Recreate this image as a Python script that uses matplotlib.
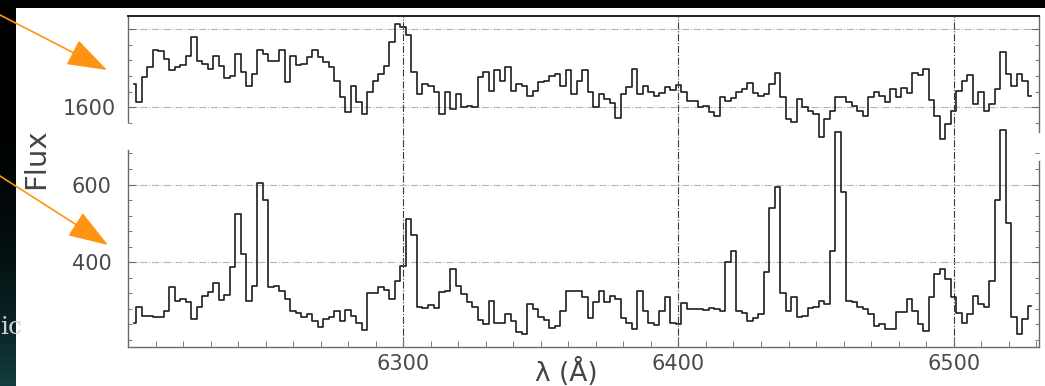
import numpy as np
import matplotlib
matplotlib.use("Agg")
from matplotlib import pyplot as plt
from matplotlib.patches import Rectangle, FancyArrowPatch
from matplotlib.ticker import MultipleLocator, FixedLocator

# wavelength bins (2 A wide) and the two spectra
wave = np.arange(6202, 6530, 2)

flux_top = [
    1660, 1613, 1677, 1702, 1746, 1743, 1723, 1694, 1704, 1709,
    1732, 1779, 1719, 1711, 1698, 1732, 1706, 1675, 1681, 1736,
    1689, 1655, 1685, 1745, 1736, 1719, 1719, 1745, 1664, 1732,
    1709, 1711, 1728, 1745, 1728, 1715, 1702, 1668, 1626, 1587,
    1655, 1613, 1583, 1638, 1668, 1685, 1706, 1766, 1813, 1804,
    1785, 1690, 1634, 1660, 1655, 1638, 1583, 1638, 1596, 1634,
    1600, 1604, 1600, 1677, 1689, 1642, 1694, 1668, 1702, 1642,
    1660, 1655, 1630, 1642, 1664, 1668, 1681, 1685, 1655, 1694,
    1634, 1668, 1694, 1638, 1600, 1634, 1621, 1611, 1574, 1634,
    1651, 1698, 1634, 1655, 1640, 1630, 1636, 1653, 1645, 1658,
    1640, 1617, 1615, 1600, 1604, 1587, 1579, 1626, 1615, 1625,
    1640, 1647, 1662, 1636, 1630, 1634, 1660, 1687, 1626, 1570,
    1562, 1621, 1602, 1590, 1583, 1523, 1570, 1591, 1626, 1626,
    1613, 1604, 1590, 1579, 1626, 1640, 1630, 1613, 1647, 1626,
    1649, 1636, 1687, 1683, 1698, 1619, 1579, 1519, 1557, 1591,
    1642, 1668, 1683, 1608, 1638, 1591, 1608, 1647, 1741, 1685,
    1655, 1685, 1668, 1630,
]

flux_bot = [
    245, 285, 262, 262, 260, 260, 275, 336, 301, 305,
    297, 254, 284, 312, 323, 346, 303, 316, 387, 525,
    421, 301, 340, 605, 560, 336, 340, 327, 305, 275,
    269, 260, 267, 248, 234, 254, 260, 274, 250, 277,
    262, 243, 226, 320, 320, 337, 329, 305, 353, 390,
    512, 470, 285, 282, 291, 282, 323, 327, 383, 340,
    318, 299, 284, 251, 241, 301, 243, 245, 267, 250,
    220, 215, 293, 280, 258, 251, 231, 237, 275, 327,
    326, 327, 310, 256, 297, 327, 299, 312, 305, 256,
    245, 228, 327, 275, 245, 239, 275, 310, 245, 241,
    294, 280, 280, 280, 277, 282, 280, 275, 400, 430,
    275, 269, 248, 256, 267, 375, 540, 595, 320, 275,
    310, 260, 262, 282, 284, 301, 293, 430, 735, 580,
    300, 297, 284, 280, 267, 237, 241, 228, 228, 271,
    271, 305, 275, 241, 222, 310, 370, 383, 357, 310,
    269, 245, 267, 314, 293, 284, 353, 560, 740, 500,
    260, 215, 254, 288,
]

x_major = [6300, 6400, 6500]
top_ticks = [1600, 1800]
top_labels = ['1600', '']
bot_ticks = [400, 600]
bot_labels = ['400', '600']

W, H = 1045, 386
fig = plt.figure(figsize=(W / 100, H / 100), dpi=100)
fig.patch.set_facecolor('black')

def fx(px):
    return px / W

def fy(py):
    return 1 - py / H

# slide decorations: dark teal strip on the left, white panel behind the chart
strip = fig.add_axes((0, 0, fx(16), 1), zorder=0.5)
grad = np.linspace(0, 1, 100)[:, None] ** 3
strip.imshow(grad, aspect='auto', cmap=matplotlib.colors.LinearSegmentedColormap.from_list('s', ['black', '#123d3f']),
             extent=(0, 1, 0, 1), origin='upper')
strip.axis('off')
fig.patches.append(Rectangle((fx(16), 0), 1 - fx(16), fy(8), transform=fig.transFigure,
                             facecolor='white', edgecolor='none', zorder=1))
fig.text(fx(0), fy(327), 'ic', color='#d0d0d0', fontsize=18, family='DejaVu Serif',
         va='center', ha='left', zorder=1.5)

left, right = 128, 1039
ax_top = fig.add_axes((fx(left), fy(132), fx(right - left), (132 - 16) / H), zorder=2)
ax_bot = fig.add_axes((fx(left), fy(347), fx(right - left), (347 - 150) / H), zorder=3)
for ax in (ax_top, ax_bot):
    ax.patch.set_alpha(0)
    ax.set_xlim(6200, 6531)

line_kw = dict(where='mid', color='#1e1e1e', lw=1.2, clip_on=False)
ax_top.step(wave, flux_top, **line_kw)
ax_bot.step(wave, flux_bot, **line_kw)

ax_top.set_ylim(1537, 1833)
ax_bot.set_ylim(182, 689)

spine_c = '#6a6a6a'
ax_top.spines['bottom'].set_visible(False)
ax_top.spines['top'].set_color('#222222')
ax_top.spines['top'].set_linewidth(1.4)
ax_top.spines['left'].set_bounds(1562, 1833)
ax_bot.spines['top'].set_visible(False)
ax_bot.spines['right'].set_bounds(182, 660)
for ax in (ax_top, ax_bot):
    for s in ('left', 'right', 'bottom'):
        if s != 'bottom' or ax is ax_bot:
            ax.spines[s].set_color(spine_c)
            ax.spines[s].set_linewidth(1.0)

# y ticks
ax_top.yaxis.set_major_locator(FixedLocator(top_ticks))
ax_top.set_yticklabels(top_labels)
ax_bot.yaxis.set_major_locator(FixedLocator(bot_ticks))
ax_bot.set_yticklabels(bot_labels)
for ax, pad in ((ax_top, 9), (ax_bot, 12)):
    ax.yaxis.set_minor_locator(MultipleLocator(40))
    ax.tick_params(axis='y', which='both', direction='in', left=True, right=True,
                   color=spine_c, labelsize=15, labelcolor='#4a4a4a', pad=pad)
    ax.tick_params(axis='y', which='major', length=6)
    ax.tick_params(axis='y', which='minor', length=3)
    ax.grid(axis='y', which='major', linestyle='-.', color='#b5b5b5', lw=0.8)
    ax.set_axisbelow(True)

# x ticks
ax_top.tick_params(axis='x', which='both', bottom=False, top=False, labelbottom=False)
ax_bot.xaxis.set_major_locator(FixedLocator(x_major))
ax_bot.xaxis.set_minor_locator(MultipleLocator(10))
ax_bot.tick_params(axis='x', which='both', direction='in', top=False, color=spine_c,
                   labelsize=15, labelcolor='#4a4a4a', pad=5)
ax_bot.tick_params(axis='x', which='major', length=7)
ax_bot.tick_params(axis='x', which='minor', length=4)

# vertical reference lines running through both panels
for xv in x_major:
    ax_bot.axvline(xv, 0, (347 - 16) / (347 - 150), linestyle='-.', color='#3a3a3a',
                   lw=0.8, clip_on=False, zorder=0.5)

fig.text(fx(36), fy(159), 'Flux', rotation=90, ha='center', va='center',
         fontsize=21, color='#444444', zorder=4)
fig.text(fx(566), fy(372), 'λ (Å)', ha='center', va='center',
         fontsize=19, color='#444444', zorder=4)

# orange pointer arrows
arrow_kw = dict(transform=fig.transFigure, arrowstyle='-|>,head_length=1.8,head_width=0.62',
                mutation_scale=14, color='#ff9412', lw=1.2, shrinkA=0, shrinkB=0, zorder=5)
fig.patches.append(FancyArrowPatch((fx(0), fy(15)), (fx(107), fy(70)), **arrow_kw))
fig.patches.append(FancyArrowPatch((fx(0), fy(176)), (fx(108), fy(245)), **arrow_kw))

fig.savefig('out.png', dpi=100, facecolor=fig.get_facecolor())
